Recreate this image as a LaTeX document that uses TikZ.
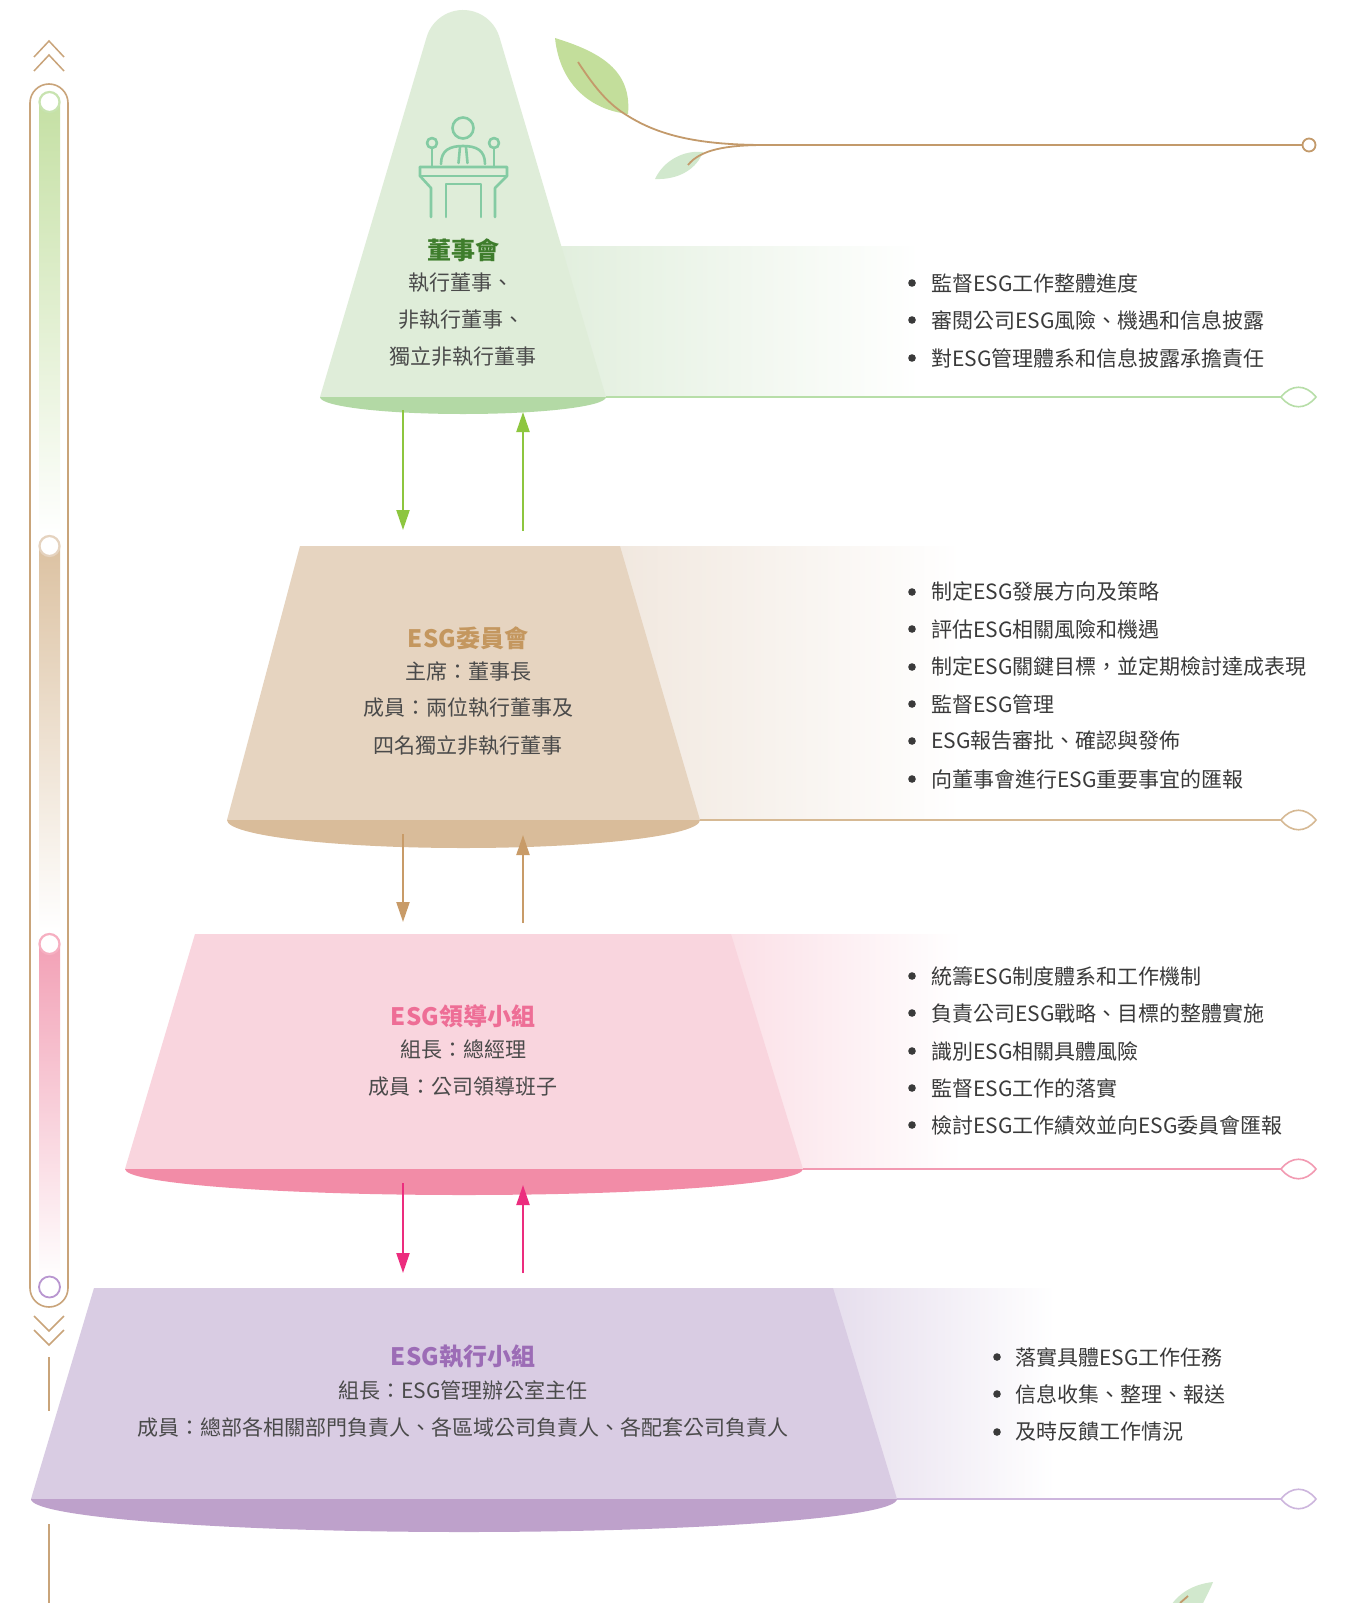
\documentclass[tikz,border=0pt]{standalone}
\usepackage{fontspec}
\setmainfont{Noto Sans CJK TC}
\usetikzlibrary{arrows.meta}

% palette
\definecolor{txt}{HTML}{4A4A4A}
\definecolor{bultxt}{HTML}{3A3A3A}
\definecolor{coneG}{HTML}{DFEDD9}
\definecolor{baseG}{HTML}{B3D9A5}
\definecolor{ttlG}{HTML}{3E7D2C}
\definecolor{bandG}{HTML}{E2EFDE}
\definecolor{lineG}{HTML}{B7DEA8}
\definecolor{arrowG}{HTML}{8DC63F}
\definecolor{fillB}{HTML}{E6D4C0}
\definecolor{baseB}{HTML}{D9BC9A}
\definecolor{ttlB}{HTML}{C4975F}
\definecolor{bandB}{HTML}{F1E8DF}
\definecolor{lineB}{HTML}{D6B994}
\definecolor{arrowB}{HTML}{C89B68}
\definecolor{fillP}{HTML}{F9D5DE}
\definecolor{baseP}{HTML}{F28CA7}
\definecolor{ttlP}{HTML}{EE6E96}
\definecolor{bandP}{HTML}{FBE0E7}
\definecolor{lineP}{HTML}{F29AB2}
\definecolor{arrowP}{HTML}{EC2D7E}
\definecolor{fillV}{HTML}{D9CCE3}
\definecolor{baseV}{HTML}{BEA1CB}
\definecolor{ttlV}{HTML}{9C6CB6}
\definecolor{bandV}{HTML}{E6DEED}
\definecolor{lineV}{HTML}{CDB6DD}
\definecolor{railC}{HTML}{C9A47A}
\definecolor{iconC}{HTML}{84CBA3}
\definecolor{stemC}{HTML}{C39A6B}
\definecolor{leafA}{HTML}{C3DE9B}
\definecolor{leafB}{HTML}{D1E8CD}
\definecolor{barG}{HTML}{C5E0A4}
\definecolor{barB}{HTML}{DCC2A2}
\definecolor{barP}{HTML}{F2A1B6}
\definecolor{dotG}{HTML}{C8E3B0}
\definecolor{dotB}{HTML}{E5D3BF}
\definecolor{dotP}{HTML}{F6AFC1}
\definecolor{dotV}{HTML}{B996D0}

\begin{document}
\begin{tikzpicture}[x=1pt,y=-1pt,
  body/.style={font=\fontsize{21}{25}\selectfont, text=txt, inner sep=0pt},
  ttl/.style={font=\fontsize{24}{28}\selectfont\bfseries, inner sep=0pt},
  bul/.style={font=\fontsize{21}{25}\selectfont, text=bultxt, inner sep=0pt, anchor=west},
  flow/.style={line width=2.2pt, -{Triangle[width=13pt,length=20pt]}},
  baseline/.style={line width=2pt},
  lens/.style={line width=1.6pt, fill=white},
  rail/.style={draw=railC, line width=1.6pt},
  chev/.style={draw=railC, line width=1.5pt},
  icon/.style={draw=iconC, line width=2.6pt, line cap=round, line join=round},
  stem/.style={draw=stemC, line width=1.8pt},
  ring/.style={fill=white, line width=2.2pt}
]
\useasboundingbox (0,0) rectangle (1352,1603);
\fill[white] (0,0) rectangle (1352,1603);

% ---------- fading bands behind the tiers ----------
\shade[left color=bandG, right color=white] (560,246) rectangle (920,397);
\shade[left color=bandB, right color=white] (620,546) rectangle (961,820);
\shade[left color=bandP, right color=white] (731,934) rectangle (961,1169);
\shade[left color=bandV, right color=white] (833,1288) rectangle (1055,1499);

% ---------- base lines with lens ends ----------
\coordinate (c1) at (606,397);  \coordinate (l1) at (1281,397);
\coordinate (c2) at (700,820);  \coordinate (l2) at (1281,820);
\coordinate (c3) at (803,1169); \coordinate (l3) at (1281,1169);
\coordinate (c4) at (897,1499); \coordinate (l4) at (1281,1499);
\draw[baseline, draw=lineG] (c1) -- (l1);
\draw[baseline, draw=lineB] (c2) -- (l2);
\draw[baseline, draw=lineP] (c3) -- (l3);
\draw[baseline, draw=lineV] (c4) -- (l4);
\foreach \yy/\cc in {397/lineG, 820/lineB, 1169/lineP, 1499/lineV}{
  \draw[lens, draw=\cc] (1281,\yy) .. controls (1291,\yy-13) and (1306,\yy-13) .. (1316,\yy)
        .. controls (1306,\yy+13) and (1291,\yy+13) .. (1281,\yy) -- cycle;
}

% ---------- tier 1: cone ----------
\fill[coneG] (320,397) -- (426.6,37.2) arc[start angle=196.5, end angle=343.5, radius=38] -- (606,397) -- cycle;
\fill[baseG] (606,397) arc[start angle=0, end angle=180, x radius=143, y radius=17] -- cycle;

% ---------- tier 2 ----------
\fill[fillB] (300,546) -- (620,546) -- (700,820) -- (227,820) -- cycle;
\fill[baseB] (700,820) arc[start angle=0, end angle=180, x radius=236.5, y radius=28] -- cycle;

% ---------- tier 3 ----------
\fill[fillP] (195,934) -- (731,934) -- (803,1169) -- (125,1169) -- cycle;
\fill[baseP] (803,1169) arc[start angle=0, end angle=180, x radius=339, y radius=26] -- cycle;

% ---------- tier 4 ----------
\fill[fillV] (94,1288) -- (833,1288) -- (897,1499) -- (31,1499) -- cycle;
\fill[baseV] (897,1499) arc[start angle=0, end angle=180, x radius=433, y radius=33] -- cycle;

% ---------- podium icon ----------
\draw[icon] (463,128) circle (10.5);
\draw[icon] (441,164) .. controls (441,150) and (450,146) .. (463,146) .. controls (476,146) and (485,150) .. (485,164);
\draw[icon] (460,147) -- (458.5,163);
\draw[icon] (466,147) -- (467.5,163);
\draw[icon] (432,143) circle (5);
\draw[icon] (494,143) circle (5);
\draw[icon] (432,148) -- (432,167);
\draw[icon] (494,148) -- (494,167);
\draw[icon] (420,167) -- (507,167) -- (507,176) -- (495,188) -- (495,217);
\draw[icon] (420,167) -- (420,176) -- (431,188) -- (431,217);
\draw[icon] (420,176) -- (507,176);
\draw[icon] (446,217) -- (446,184) -- (481,184) -- (481,217);

% ---------- tier texts ----------
\node[ttl, text=ttlG] (t1) at (463,250) {董事會};
\node[body] (t1a) at (461,283) {執行董事、};
\node[body] (t1b) at (461,320) {非執行董事、};
\node[body] (t1c) at (463,357) {獨立非執行董事};

\node[ttl, text=ttlB] (t2) at (468,638) {ESG委員會};
\node[body] (t2a) at (468,671) {主席：董事長};
\node[body] (t2b) at (468,708) {成員：兩位執行董事及};
\node[body] (t2c) at (468,746) {四名獨立非執行董事};

\node[ttl, text=ttlP] (t3) at (463,1016) {ESG領導小組};
\node[body] (t3a) at (463,1049) {組長：總經理};
\node[body] (t3b) at (463,1086) {成員：公司領導班子};

\node[ttl, text=ttlV] (t4) at (463,1357) {ESG執行小組};
\node[body] (t4a) at (463,1390) {組長：ESG管理辦公室主任};
\node[body] (t4b) at (463,1427) {成員：總部各相關部門負責人、各區域公司負責人、各配套公司負責人};

% ---------- duty lists ----------
\foreach \yy/\tt in {283/監督ESG工作整體進度, 320/審閱公司ESG風險、機遇和信息披露, 358/對ESG管理體系和信息披露承擔責任}{
  \fill[bultxt] (912,\yy) circle (3.8);
  \node[bul] at (931,\yy) {\tt};
}
\foreach \yy/\tt in {592/制定ESG發展方向及策略, 629/評估ESG相關風險和機遇, 667/制定ESG關鍵目標，並定期檢討達成表現, 704/監督ESG管理, 741/ESG報告審批、確認與發佈, 779/向董事會進行ESG重要事宜的匯報}{
  \fill[bultxt] (912,\yy) circle (3.8);
  \node[bul] at (931,\yy) {\tt};
}
\foreach \yy/\tt in {976/統籌ESG制度體系和工作機制, 1013/負責公司ESG戰略、目標的整體實施, 1051/識別ESG相關具體風險, 1088/監督ESG工作的落實, 1125/檢討ESG工作績效並向ESG委員會匯報}{
  \fill[bultxt] (912,\yy) circle (3.8);
  \node[bul] at (931,\yy) {\tt};
}
\foreach \yy/\tt in {1357/落實具體ESG工作任務, 1394/信息收集、整理、報送, 1432/及時反饋工作情況}{
  \fill[bultxt] (997,\yy) circle (3.8);
  \node[bul] at (1015,\yy) {\tt};
}

% ---------- two-way arrows between tiers ----------
\coordinate (g1) at (403,410);  \coordinate (g2) at (403,530);
\coordinate (g3) at (523,531);  \coordinate (g4) at (523,412);
\draw[flow, draw=arrowG, fill=arrowG] (g1) -- (g2);
\draw[flow, draw=arrowG, fill=arrowG] (g3) -- (g4);
\coordinate (b1) at (403,834);  \coordinate (b2) at (403,922);
\coordinate (b3) at (523,923);  \coordinate (b4) at (523,835);
\draw[flow, draw=arrowB, fill=arrowB] (b1) -- (b2);
\draw[flow, draw=arrowB, fill=arrowB] (b3) -- (b4);
\coordinate (p1) at (403,1183); \coordinate (p2) at (403,1273);
\coordinate (p3) at (523,1273); \coordinate (p4) at (523,1185);
\draw[flow, draw=arrowP, fill=arrowP] (p1) -- (p2);
\draw[flow, draw=arrowP, fill=arrowP] (p3) -- (p4);

% ---------- left progress rail ----------
\draw[chev] (34,57) -- (49,41) -- (64,57);
\draw[chev] (34,71) -- (49,55) -- (64,71);
\draw[rail, rounded corners=19pt] (30,84) rectangle (68,1307);
\shade[top color=barG, bottom color=white] (39,102) rectangle (60,535);
\shade[top color=barB, bottom color=white] (39,546) rectangle (60,930);
\shade[top color=barP, bottom color=white] (39,944) rectangle (60,1280);
\draw[ring, draw=dotG] (49.5,102) circle (10);
\draw[ring, draw=dotB] (49.5,546) circle (10);
\draw[ring, draw=dotP] (49.5,944) circle (10);
\draw[ring, draw=dotV, line width=1.8pt] (49.5,1287) circle (10.5);
\draw[chev] (34,1316) -- (49,1331) -- (64,1316);
\draw[chev] (34,1330) -- (49,1345) -- (64,1330);
\draw[rail] (49,1357) -- (49,1411);
\draw[rail] (49,1524) -- (49,1603);

% ---------- branch with leaves ----------
\fill[leafA] (555,38) .. controls (600,52) and (632,70) .. (628,114)
             .. controls (592,110) and (560,86) .. (555,38) -- cycle;
\fill[leafB] (655,179) .. controls (664,160) and (684,150) .. (703,152)
             .. controls (697,168) and (680,180) .. (655,179) -- cycle;
\draw[stem] (578,62) .. controls (595,88) and (608,104) .. (628,116)
            .. controls (660,136) and (700,145) .. (765,145) -- (1302,145);
\draw[stem] (765,145) .. controls (725,145) and (700,150) .. (688,165);
\draw[stem, fill=white] (1309,145) circle (6.5);
\fill[leafB] (1213,1582) .. controls (1195,1584) and (1178,1592) .. (1168,1610)
             -- (1200,1610) .. controls (1205,1598) and (1210,1590) .. (1213,1582) -- cycle;
\draw[stem] (1180,1603) -- (1188,1596);
\end{tikzpicture}
\end{document}
